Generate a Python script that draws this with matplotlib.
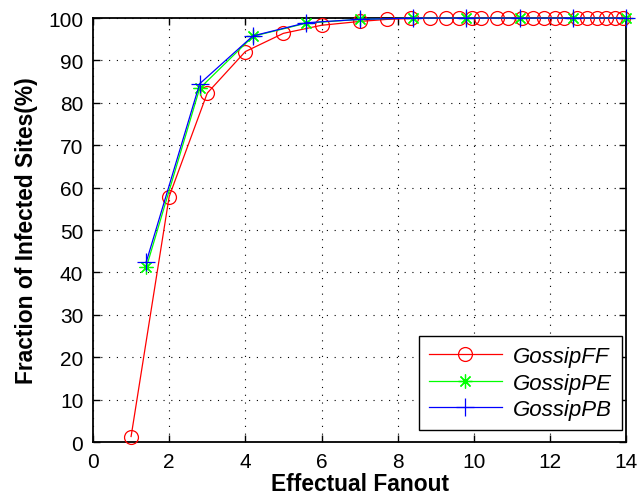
import matplotlib
matplotlib.use("Agg")
import matplotlib.pyplot as plt

plt.rcParams['font.family'] = ['Liberation Sans', 'DejaVu Sans']

ff_x = [1, 2, 3, 4, 5, 6, 7, 7.73, 8.35, 8.85, 9.27, 9.6, 9.95, 10.2, 10.6, 10.9,
        11.27, 11.55, 11.85, 12.13, 12.37, 12.71, 12.97, 13.24, 13.47, 13.71, 13.92]
ff_y = [1.3, 57.9, 82.3, 92.1, 96.4, 98.3, 99.2, 99.7, 99.9, 100, 100, 100, 100, 100, 100, 100,
        100, 100, 100, 100, 100, 100, 100, 100, 100, 100, 100]
pe_x = [1.4, 2.8, 4.2, 5.6, 7.0, 8.4, 9.8, 11.2, 12.6, 14.0]
pe_y = [41.2, 83.4, 95.7, 98.8, 99.7, 100, 100, 100, 100, 100]
pb_x = [1.4, 2.8, 4.2, 5.6, 7.0, 8.4, 9.8, 11.2, 12.6, 14.0]
pb_y = [42.5, 84.5, 95.8, 98.9, 99.7, 100, 100, 100, 100, 100]
labels = ['GossipFF', 'GossipPE', 'GossipPB']

fig = plt.figure(figsize=(6.37, 5.02), dpi=100)
ax = fig.add_axes([0.146, 0.1175, 0.837, 0.8445])

ax.plot(ff_x, ff_y, color=(1, 0, 0), lw=0.9, marker='o', ms=10, mfc='none', mec=(1, 0, 0),
        mew=0.9, label=labels[0], clip_on=False, zorder=3)
ax.plot(pe_x, pe_y, color=(0, 1, 0), lw=0.9, marker=(8, 2, 0), ms=10, mec=(0, 1, 0),
        mew=0.9, label=labels[1], clip_on=False, zorder=4)
ax.plot(pb_x, pb_y, color=(0, 0, 1), lw=0.9, marker='+', ms=13, mec=(0, 0, 1),
        mew=0.9, label=labels[2], clip_on=False, zorder=5)

ax.set_xlim(0, 14)
ax.set_ylim(0, 100)
ax.set_xticks(range(0, 15, 2))
ax.set_yticks(range(0, 101, 10))
ax.grid(True, color='black', linestyle=(0, (1, 6)), linewidth=0.8)
ax.tick_params(direction='in', top=True, right=True, length=5, width=1, labelsize=15, pad=7)
for s in ax.spines.values():
    s.set_linewidth(1.3)

ax.set_xlabel('Effectual Fanout', fontsize=16.4, fontweight='bold', labelpad=1)
ax.set_ylabel('Fraction of Infected Sites(%)', fontsize=16.4, fontweight='bold', labelpad=7)

leg = ax.legend(loc='lower right', bbox_to_anchor=(0.9925, 0.028), borderaxespad=0,
                prop={'style': 'italic', 'size': 16}, fancybox=False,
                edgecolor='black', framealpha=1, handlelength=3.3, handletextpad=0.5,
                labelspacing=0.25, borderpad=0.45)
leg.get_frame().set_linewidth(1.0)

fig.savefig('out.png', dpi=100)
